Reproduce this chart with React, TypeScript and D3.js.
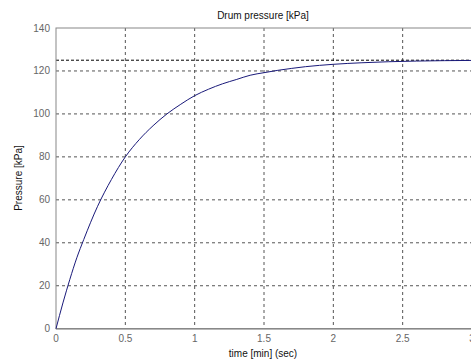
import React, { useEffect, useRef } from 'react';
import * as d3 from 'd3';

const times = [0, 0.05, 0.1, 0.15, 0.2, 0.3, 0.4, 0.5, 0.6, 0.7, 0.8, 0.9, 1.0, 1.1, 1.2, 1.3, 1.4, 1.5, 1.6, 1.7, 1.8, 1.9, 2.0, 2.2, 2.4, 2.6, 2.8, 3.0];
const pressures = [0, 12, 23, 33, 41.5, 57, 69.5, 80, 88, 94.5, 100, 104.5, 108.5, 111.5, 114, 116, 118, 119.2, 120.3, 121.2, 122, 122.6, 123.1, 123.8, 124.3, 124.6, 124.8, 124.9];
const setpoint = [125];
const xTicks = [0, 0.5, 1, 1.5, 2, 2.5, 3];
const yTicks = [0, 20, 40, 60, 80, 100, 120, 140];

const App = () => {
  const ref = useRef<SVGSVGElement>(null);

  useEffect(() => {
    const svg = d3.select(ref.current);
    svg.selectAll('*').remove();

    const left = 56, right = 472, top = 28, bottom = 328.7;
    const x = d3.scaleLinear().domain([0, 3]).range([left, right]);
    const y = d3.scaleLinear().domain([0, 140]).range([bottom, top]);
    const font = 'Liberation Sans, Arial, sans-serif';

    svg.append('rect').attr('width', 471).attr('height', 362).attr('fill', '#fff');

    // grid
    svg.selectAll('line.vgrid')
      .data(xTicks.slice(1, -1))
      .enter()
      .append('line')
      .attr('x1', d => x(d)).attr('x2', d => x(d))
      .attr('y1', top).attr('y2', bottom)
      .attr('stroke', '#555').attr('stroke-width', 1)
      .attr('stroke-dasharray', '3,3');

    svg.selectAll('line.hgrid')
      .data(yTicks.slice(1, -1))
      .enter()
      .append('line')
      .attr('x1', left).attr('x2', right)
      .attr('y1', d => y(d)).attr('y2', d => y(d))
      .attr('stroke', '#555').attr('stroke-width', 1)
      .attr('stroke-dasharray', '3,3');

    // setpoint
    svg.selectAll('line.sp')
      .data(setpoint)
      .enter()
      .append('line')
      .attr('x1', left).attr('x2', right)
      .attr('y1', d => y(d)).attr('y2', d => y(d))
      .attr('stroke', '#000').attr('stroke-width', 1)
      .attr('stroke-dasharray', '3,2');

    // box
    svg.append('rect')
      .attr('x', left).attr('y', top)
      .attr('width', right - left).attr('height', bottom - top)
      .attr('fill', 'none').attr('stroke', '#888').attr('stroke-width', 1);
    svg.append('line')
      .attr('x1', left).attr('x2', right)
      .attr('y1', bottom).attr('y2', bottom)
      .attr('stroke', '#888').attr('stroke-width', 1.5);

    // curve
    const line = d3.line<number>()
      .x((d, i) => x(times[i]))
      .y(d => y(d))
      .curve(d3.curveMonotoneX);
    svg.append('path')
      .datum(pressures)
      .attr('d', line)
      .attr('fill', 'none')
      .attr('stroke', '#1a1a7a')
      .attr('stroke-width', 1);

    // tick labels
    svg.selectAll('text.xt')
      .data(xTicks)
      .enter()
      .append('text')
      .attr('x', d => x(d))
      .attr('y', 342)
      .attr('text-anchor', 'middle')
      .attr('font-family', font).attr('font-size', 10)
      .attr('fill', '#666')
      .text(d => String(d));

    svg.selectAll('text.yt')
      .data(yTicks)
      .enter()
      .append('text')
      .attr('x', 50)
      .attr('y', d => y(d) + 3.5)
      .attr('text-anchor', 'end')
      .attr('font-family', font).attr('font-size', 10)
      .attr('fill', '#666')
      .text(d => String(d));

    svg.append('text')
      .attr('x', 263).attr('y', 19)
      .attr('text-anchor', 'middle')
      .attr('font-family', font).attr('font-size', 10)
      .attr('fill', '#111')
      .text('Drum pressure [kPa]');

    svg.append('text')
      .attr('x', 263).attr('y', 357)
      .attr('text-anchor', 'middle')
      .attr('font-family', font).attr('font-size', 10)
      .attr('fill', '#111')
      .text('time [min] (sec)');

    svg.append('text')
      .attr('transform', 'translate(22,178) rotate(-90)')
      .attr('text-anchor', 'middle')
      .attr('font-family', font).attr('font-size', 10)
      .attr('fill', '#111')
      .text('Pressure [kPa]');
  }, []);

  return (
    <svg ref={ref} width={471} height={362} style={{ position: 'absolute', left: 0, top: 0 }} />
  );
};

export default App;
